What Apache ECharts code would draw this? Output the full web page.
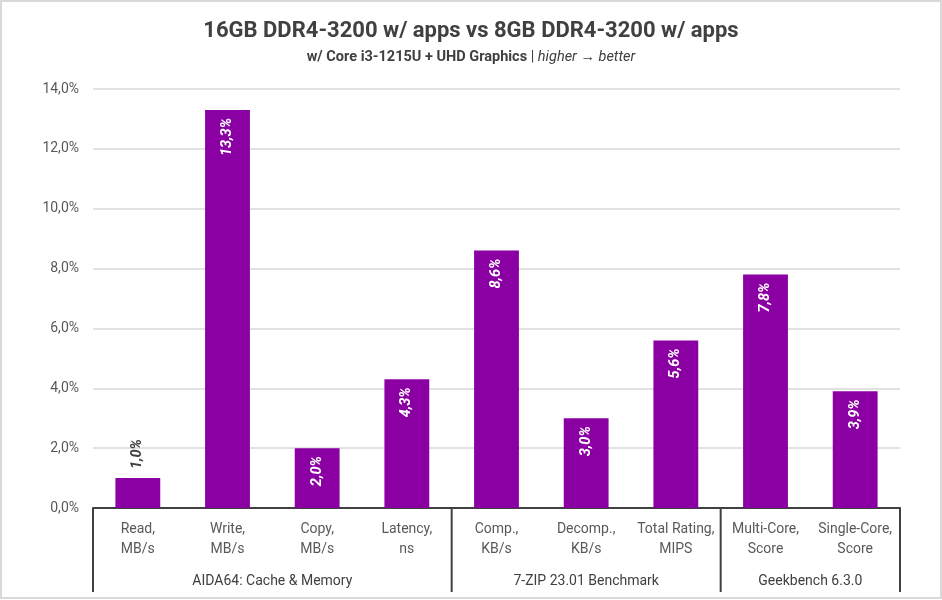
<!DOCTYPE html>
<html>
<head>
<meta charset="utf-8">
<script src="https://cdn.jsdelivr.net/npm/echarts@6/dist/echarts.min.js"></script>
<style>
html,body{margin:0;padding:0;background:#fff;}
#chart{width:942px;height:600px;}
</style>
</head>
<body>
<div id="chart"></div>
<script>
const categories = ["Read,\nMB/s","Write,\nMB/s","Copy,\nMB/s","Latency,\nns","Comp.,\nKB/s","Decomp.,\nKB/s","Total Rating,\nMIPS","Multi-Core,\nScore","Single-Core,\nScore"];
const values = [1.0, 13.3, 2.0, 4.3, 8.6, 3.0, 5.6, 7.8, 3.9];
const groupNames = ["AIDA64: Cache & Memory", "7-ZIP 23.01 Benchmark", "Geekbench 6.3.0"];
const groupSizes = [4, 3, 2];
const yTicks = [0, 2, 4, 6, 8, 10, 12, 14];

const purple = '#8b00a3';
const fontFamily = 'Roboto, "Noto Sans", sans-serif';

const chart = echarts.init(document.getElementById('chart'));

const data = values.map(v => {
  const outside = v < 1.5;
  return {
    value: v,
    label: outside ? {
      position: 'top', align: 'left', verticalAlign: 'middle', color: '#404040', distance: 9
    } : {}
  };
});

const option = {
  animation: false,
  backgroundColor: '#ffffff',
  title: {
    text: '16GB DDR4-3200 w/ apps vs 8GB DDR4-3200 w/ apps',
    subtext: '{b|w/ Core i3-1215U + UHD Graphics} {n|| }{i|higher → better}',
    left: 'center',
    top: 15,
    itemGap: 8,
    textStyle: { fontFamily, fontSize: 22, fontWeight: 'bold', color: '#404040' },
    subtextStyle: {
      fontFamily, fontSize: 14.5, color: '#404040',
      rich: {
        b: { fontFamily, fontSize: 14.5, fontWeight: 'bold', color: '#404040' },
        n: { fontFamily, fontSize: 14.5, color: '#404040' },
        i: { fontFamily, fontSize: 14.5, fontStyle: 'italic', color: '#404040' }
      }
    }
  },
  grid: { left: 93, right: 42, top: 89, bottom: 92 },
  xAxis: {
    type: 'category',
    data: categories,
    axisLine: { lineStyle: { color: '#404040', width: 2 } },
    axisTick: { show: false },
    axisLabel: { fontFamily, fontSize: 14, color: '#595959', lineHeight: 20, margin: 11, interval: 0 }
  },
  yAxis: {
    type: 'value',
    min: 0, max: 14, interval: 2,
    axisLine: { show: false },
    axisTick: { show: false },
    splitLine: { lineStyle: { color: '#d9d9d9', width: 1.5 } },
    axisLabel: {
      fontFamily, fontSize: 14, color: '#595959', margin: 14,
      formatter: v => v.toFixed(1).replace('.', ',') + '%'
    }
  },
  series: [{
    type: 'bar',
    data: data,
    barWidth: '50%',
    itemStyle: { color: purple },
    label: {
      show: true,
      position: 'insideTop',
      rotate: 90,
      align: 'right',
      verticalAlign: 'middle',
      distance: 8,
      fontFamily, fontSize: 14.5, fontWeight: 'bold', fontStyle: 'italic',
      color: '#ffffff',
      formatter: p => p.value.toFixed(1).replace('.', ',') + '%'
    }
  }]
};

chart.setOption(option);

// group separators and group labels computed through the axis scale
const graphics = [];
const bandHalf = (chart.convertToPixel({xAxisIndex: 0}, 1) - chart.convertToPixel({xAxisIndex: 0}, 0)) / 2;
const yBase = chart.convertToPixel({yAxisIndex: 0}, 0);
let start = 0;
const boundaries = [];
boundaries.push(chart.convertToPixel({xAxisIndex: 0}, 0) - bandHalf);
groupSizes.forEach((n, gi) => {
  const x0 = chart.convertToPixel({xAxisIndex: 0}, start) - bandHalf;
  const x1 = chart.convertToPixel({xAxisIndex: 0}, start + n - 1) + bandHalf;
  boundaries.push(x1);
  graphics.push({
    type: 'text',
    style: {
      text: groupNames[gi], x: (x0 + x1) / 2, y: yBase + 73,
      textAlign: 'center', textVerticalAlign: 'middle',
      font: '14px ' + fontFamily, fill: '#404040'
    }
  });
  start += n;
});
boundaries.forEach(x => {
  graphics.push({
    type: 'line',
    shape: { x1: x, y1: yBase, x2: x, y2: yBase + 84 },
    style: { stroke: '#404040', lineWidth: 2 }
  });
});
// outer frame
graphics.push({
  type: 'rect',
  shape: { x: 1, y: 1, width: 940, height: 597 },
  style: { fill: null, stroke: '#d9d9d9', lineWidth: 2 },
  silent: true
});
chart.setOption({ graphic: graphics });
</script>
</body>
</html>
